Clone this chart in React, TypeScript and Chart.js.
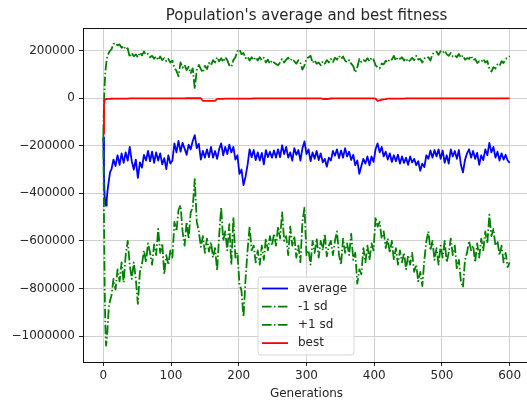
import React, { useEffect, useRef } from 'react';
import { Chart, registerables } from 'chart.js';

Chart.register(...registerables);

const TITLE = "Population's average and best fitness";
const X_LABEL = 'Generations';
const SERIES_LABELS = ['average', '-1 sd', '+1 sd', 'best'];
const X_TICKS = [0, 100, 200, 300, 400, 500, 600];
const Y_TICKS = [-1000000, -800000, -600000, -400000, -200000, 0, 200000];

const GENERATIONS = [
  0, 1, 2, 3, 4, 5, 6, 8, 10,
  12, 15, 18, 21, 24, 27, 30, 33, 36, 39,
  42, 45, 48, 51, 54, 57, 60, 63, 66, 69,
  72, 75, 78, 81, 84, 87, 90, 93, 96, 99,
  102, 105, 108, 111, 114, 117, 120, 123, 126, 129,
  132, 135, 138, 141, 144, 147, 150, 153, 156, 159,
  162, 165, 168, 171, 174, 177, 180, 183, 186, 189,
  192, 195, 198, 201, 204, 207, 210, 213, 216, 219,
  222, 225, 228, 231, 234, 237, 240, 243, 246, 249,
  252, 255, 258, 261, 264, 267, 270, 273, 276, 279,
  282, 285, 288, 291, 294, 297, 300, 303, 306, 309,
  312, 315, 318, 321, 324, 327, 330, 333, 336, 339,
  342, 345, 348, 351, 354, 357, 360, 363, 366, 369,
  372, 375, 378, 381, 384, 387, 390, 393, 396, 399,
  402, 405, 408, 411, 414, 417, 420, 423, 426, 429,
  432, 435, 438, 441, 444, 447, 450, 453, 456, 459,
  462, 465, 468, 471, 474, 477, 480, 483, 486, 489,
  492, 495, 498, 501, 504, 507, 510, 513, 516, 519,
  522, 525, 528, 531, 534, 537, 540, 543, 546, 549,
  552, 555, 558, 561, 564, 567, 570, 573, 576, 579,
  582, 585, 588, 591, 594, 597, 600,
];

const AVERAGE = [
  -165000, -330000, -410000, -445000, -452000, -430000, -395000, -350000, -310000,
  -300000, -258000, -285000, -240000, -280000, -232000, -272000, -228000, -262000, -205000,
  -265000, -300000, -258000, -335000, -270000, -292000, -238000, -262000, -222000, -265000,
  -225000, -272000, -228000, -262000, -232000, -278000, -252000, -298000, -240000, -275000,
  -262000, -190000, -228000, -180000, -225000, -188000, -212000, -238000, -195000, -215000,
  -180000, -155000, -210000, -192000, -258000, -222000, -250000, -215000, -248000, -205000,
  -250000, -222000, -255000, -215000, -190000, -240000, -205000, -235000, -195000, -228000,
  -205000, -258000, -240000, -318000, -300000, -365000, -330000, -280000, -215000, -248000,
  -218000, -260000, -228000, -262000, -230000, -278000, -218000, -248000, -225000, -250000,
  -220000, -250000, -215000, -248000, -198000, -235000, -205000, -250000, -228000, -262000,
  -210000, -238000, -218000, -262000, -210000, -182000, -235000, -215000, -265000, -228000,
  -255000, -222000, -260000, -232000, -270000, -255000, -288000, -250000, -262000, -222000,
  -242000, -215000, -252000, -220000, -250000, -210000, -245000, -225000, -260000, -238000,
  -282000, -262000, -318000, -285000, -255000, -275000, -245000, -282000, -245000, -268000,
  -215000, -190000, -228000, -205000, -245000, -225000, -258000, -232000, -268000, -240000,
  -265000, -238000, -275000, -245000, -272000, -250000, -280000, -245000, -270000, -255000,
  -282000, -265000, -305000, -275000, -290000, -240000, -255000, -220000, -250000, -218000,
  -245000, -215000, -255000, -220000, -272000, -240000, -275000, -215000, -245000, -222000,
  -255000, -218000, -280000, -312000, -260000, -232000, -215000, -250000, -222000, -255000,
  -230000, -280000, -240000, -260000, -215000, -240000, -188000, -228000, -205000, -250000,
  -225000, -262000, -232000, -258000, -238000, -262000, -272000,
];

const MINUS_SD = [
  -150000, -500000, -800000, -960000, -1040000, -1020000, -980000, -880000, -850000,
  -830000, -760000, -805000, -720000, -770000, -690000, -775000, -660000, -600000, -700000,
  -760000, -690000, -760000, -865000, -730000, -700000, -640000, -690000, -610000, -650000,
  -700000, -615000, -660000, -550000, -650000, -610000, -740000, -660000, -700000, -640000,
  -670000, -520000, -560000, -470000, -450000, -560000, -620000, -520000, -590000, -480000,
  -460000, -340000, -520000, -560000, -625000, -580000, -650000, -590000, -645000, -605000,
  -670000, -630000, -725000, -580000, -460000, -600000, -560000, -640000, -530000, -700000,
  -500000, -670000, -650000, -780000, -810000, -920000, -760000, -640000, -540000, -640000,
  -620000, -690000, -640000, -700000, -620000, -680000, -590000, -640000, -580000, -620000,
  -570000, -620000, -540000, -590000, -480000, -600000, -580000, -660000, -540000, -620000,
  -580000, -670000, -620000, -690000, -520000, -460000, -660000, -640000, -700000, -600000,
  -650000, -590000, -670000, -600000, -640000, -570000, -665000, -620000, -600000, -660000,
  -600000, -560000, -660000, -700000, -590000, -650000, -610000, -660000, -570000, -680000,
  -650000, -780000, -720000, -740000, -630000, -690000, -620000, -680000, -610000, -640000,
  -500000, -540000, -520000, -590000, -560000, -630000, -590000, -650000, -600000, -680000,
  -630000, -700000, -640000, -690000, -650000, -720000, -660000, -700000, -650000, -730000,
  -700000, -770000, -730000, -790000, -680000, -600000, -560000, -640000, -600000, -680000,
  -630000, -700000, -620000, -670000, -600000, -690000, -650000, -590000, -660000, -620000,
  -720000, -680000, -770000, -795000, -680000, -650000, -600000, -640000, -620000, -690000,
  -610000, -670000, -590000, -640000, -560000, -610000, -490000, -580000, -550000, -620000,
  -600000, -660000, -620000, -690000, -650000, -710000, -690000,
];

const PLUS_SD = [
  -150000, -20000, 60000, 110000, 140000, 160000, 175000, 190000, 200000,
  205000, 228000, 232000, 222000, 226000, 212000, 220000, 204000, 210000, 172000,
  190000, 176000, 184000, 172000, 192000, 180000, 196000, 182000, 186000, 172000,
  178000, 166000, 176000, 160000, 175000, 160000, 168000, 155000, 165000, 150000,
  158000, 128000, 115000, 92000, 150000, 128000, 140000, 118000, 132000, 105000,
  125000, 40000, 118000, 140000, 122000, 108000, 136000, 122000, 148000, 138000,
  160000, 150000, 172000, 155000, 168000, 152000, 172000, 160000, 138000, 132000,
  160000, 172000, 198000, 205000, 185000, 190000, 168000, 175000, 158000, 172000,
  160000, 172000, 158000, 172000, 160000, 170000, 150000, 162000, 145000, 158000,
  150000, 144000, 138000, 150000, 165000, 150000, 162000, 170000, 158000, 166000,
  155000, 145000, 160000, 148000, 120000, 138000, 165000, 172000, 178000, 148000,
  160000, 145000, 150000, 138000, 155000, 145000, 160000, 150000, 165000, 152000,
  170000, 162000, 178000, 165000, 175000, 158000, 150000, 160000, 145000, 135000,
  108000, 130000, 165000, 152000, 160000, 155000, 168000, 155000, 170000, 162000,
  138000, 130000, 125000, 145000, 142000, 158000, 150000, 165000, 162000, 178000,
  158000, 172000, 165000, 172000, 158000, 168000, 152000, 160000, 170000, 160000,
  178000, 162000, 165000, 150000, 168000, 165000, 172000, 158000, 185000, 192000,
  195000, 182000, 198000, 190000, 200000, 185000, 178000, 190000, 175000, 180000,
  172000, 186000, 170000, 180000, 162000, 168000, 165000, 178000, 160000, 165000,
  148000, 155000, 152000, 165000, 150000, 156000, 125000, 112000, 130000, 125000,
  142000, 135000, 155000, 148000, 165000, 170000, 176000,
];

const BEST = [
  -150000, -25000, -8000, -5000, -4000, -3500, -3000, -3000, -2500,
  -2500, -2200, -2000, -2000, -1800, -1800, -1500, -1500, -1500, -1200,
  -1200, -1200, -1000, -1000, -1000, -800, -800, -800, -800, -600,
  -600, -600, -600, -600, -600, -600, -600, -600, -600, -600,
  -600, -600, -500, -500, -500, -500, -500, -400, -400, -400,
  -400, -400, -400, -400, -400, -11000, -11000, -11000, -11000, -11000,
  -11000, -11000, -3000, -3000, -3000, -3000, -2000, -2000, -2000, -2000,
  -1500, -1500, -1500, -1500, -1500, -1500, -1500, -1500, -1500, -1500,
  -1200, -1200, -1200, -1200, -1200, -1200, -1200, -1200, -1200, -1200,
  -1000, -1000, -1000, -1000, -1000, -1000, -1000, -1000, -1000, -1000,
  -1000, -1000, -1000, -1000, -1000, -1000, -1000, -1000, -1000, -1000,
  -1000, -1000, -1000, -1000, -3000, -3500, -3500, -3000, -1000, -1000,
  -800, -800, -800, -800, -800, -800, -800, -800, -800, -800,
  -800, -800, -800, -800, -800, -800, -800, -800, -800, -800,
  -2000, -11000, -9000, -6000, -5000, -4000, -2000, -2000, -1500, -1500,
  -1500, -1500, -1500, -1500, -1500, -1000, -1000, -1000, -1000, -1000,
  -1000, -1000, -1000, -1000, -1000, -1000, -1000, -800, -800, -800,
  -800, -800, -800, -800, -800, -800, -800, -800, -800, -800,
  -600, -600, -600, -600, -600, -600, -600, -600, -600, -600,
  -600, -600, -600, -600, -600, -600, -600, -600, -600, -600,
  -500, -500, -500, -500, -500, -500, -500,
];

const FONT = '"DejaVu Sans", "Liberation Sans", sans-serif';
const TEXT_COLOR = '#262626';
const DASH_DOT = [9.6, 2.4, 1.5, 2.4];
const LINE_WIDTH = 1.8;

const fmt = (v: number) => (v < 0 ? '\u2212' + Math.abs(v) : String(v));

const framePlugin = {
  id: 'mplFrame',
  afterDraw(chart: any) {
    const { ctx, chartArea } = chart;
    ctx.save();
    ctx.strokeStyle = '#111';
    ctx.lineWidth = 1;
    ctx.beginPath();
    ctx.moveTo(chartArea.left, Math.round(chartArea.top) + 0.5);
    ctx.lineTo(chartArea.right, Math.round(chartArea.top) + 0.5);
    ctx.moveTo(Math.round(chartArea.right) + 0.5, chartArea.top);
    ctx.lineTo(Math.round(chartArea.right) + 0.5, chartArea.bottom);
    ctx.stroke();
    ctx.restore();
  },
};

const legendPlugin = {
  id: 'mplLegend',
  afterDraw(chart: any) {
    const { ctx, chartArea } = chart;
    const x0 = chartArea.left + 175;
    const y0 = chartArea.bottom - 85;
    const w = 96;
    const h = 78;
    ctx.save();
    ctx.beginPath();
    const r = 3;
    ctx.moveTo(x0 + r, y0);
    ctx.lineTo(x0 + w - r, y0);
    ctx.arcTo(x0 + w, y0, x0 + w, y0 + r, r);
    ctx.lineTo(x0 + w, y0 + h - r);
    ctx.arcTo(x0 + w, y0 + h, x0 + w - r, y0 + h, r);
    ctx.lineTo(x0 + r, y0 + h);
    ctx.arcTo(x0, y0 + h, x0, y0 + h - r, r);
    ctx.lineTo(x0, y0 + r);
    ctx.arcTo(x0, y0, x0 + r, y0, r);
    ctx.closePath();
    ctx.fillStyle = 'rgba(255,255,255,0.8)';
    ctx.fill();
    ctx.strokeStyle = '#d6d6d6';
    ctx.lineWidth = 1;
    ctx.stroke();
    chart.data.datasets.forEach((ds: any, i: number) => {
      const y = y0 + 11.5 + i * 18.2;
      ctx.beginPath();
      ctx.setLineDash(ds.borderDash || []);
      ctx.strokeStyle = ds.borderColor;
      ctx.lineWidth = LINE_WIDTH;
      ctx.moveTo(x0 + 4, y);
      ctx.lineTo(x0 + 30, y);
      ctx.stroke();
      ctx.setLineDash([]);
      ctx.fillStyle = TEXT_COLOR;
      ctx.font = '12px ' + FONT;
      ctx.textBaseline = 'middle';
      ctx.textAlign = 'left';
      ctx.fillText(ds.label, x0 + 40, y);
    });
    ctx.restore();
  },
};

const toPoints = (vals: number[]) => GENERATIONS.map((g, i) => ({ x: g, y: vals[i] }));

export default function App() {
  const ref = useRef<HTMLCanvasElement | null>(null);
  useEffect(() => {
    if (!ref.current) return;
    const mk = (label: string, vals: number[], color: string, dash: number[] | undefined, order: number) => ({
      label,
      data: toPoints(vals),
      borderColor: color,
      backgroundColor: color,
      borderWidth: LINE_WIDTH,
      borderDash: dash,
      borderJoinStyle: 'round' as const,
      pointRadius: 0,
      tension: 0,
      fill: false,
      order,
    });
    const chart = new Chart(ref.current, {
      type: 'line',
      data: {
        datasets: [
          mk(SERIES_LABELS[0], AVERAGE, '#0000ff', undefined, 3),
          mk(SERIES_LABELS[1], MINUS_SD, '#008000', DASH_DOT, 2),
          mk(SERIES_LABELS[2], PLUS_SD, '#008000', DASH_DOT, 1),
          mk(SERIES_LABELS[3], BEST, '#ff0000', undefined, 0),
        ],
      },
      options: {
        animation: false,
        responsive: false,
        maintainAspectRatio: false,
        layout: { padding: { left: 0, right: 10, top: 0, bottom: 0 } },
        plugins: {
          legend: { display: false },
          tooltip: { enabled: false },
          title: {
            display: true,
            text: TITLE,
            fullSize: false,
            color: TEXT_COLOR,
            font: { family: FONT, size: 15, weight: 'normal', lineHeight: 1.2 },
            padding: { top: 7, bottom: 3 },
          },
        },
        scales: {
          x: {
            type: 'linear',
            min: -30,
            max: 630,
            afterBuildTicks: (s: any) => {
              s.ticks = X_TICKS.map((v) => ({ value: v }));
            },
            afterFit: (s: any) => {
              s.height = 38;
            },
            ticks: {
              color: TEXT_COLOR,
              font: { family: FONT, size: 12 },
              padding: 3,
              maxRotation: 0,
              autoSkip: false,
              callback: (v: any) => fmt(Number(v)),
            },
            grid: {
              color: '#d0d0d0',
              lineWidth: 1,
              tickColor: '#222',
              tickLength: 4,
              drawTicks: true,
            },
            border: { display: true, color: '#111', width: 1 },
            title: {
              display: true,
              text: X_LABEL,
              color: TEXT_COLOR,
              font: { family: FONT, size: 12, lineHeight: 0.95 },
              padding: { top: 0, bottom: 0 },
            },
          },
          y: {
            type: 'linear',
            min: -1109000,
            max: 295000,
            afterBuildTicks: (s: any) => {
              s.ticks = Y_TICKS.map((v) => ({ value: v }));
            },
            afterFit: (s: any) => {
              s.width = 83;
            },
            ticks: {
              color: TEXT_COLOR,
              font: { family: FONT, size: 12 },
              padding: 4,
              autoSkip: false,
              callback: (v: any) => fmt(Number(v)),
            },
            grid: {
              color: '#d0d0d0',
              lineWidth: 1,
              tickColor: '#222',
              tickLength: 4,
              drawTicks: true,
            },
            border: { display: true, color: '#111', width: 1 },
          },
        },
      },
      plugins: [framePlugin, legendPlugin],
    } as any);
    return () => chart.destroy();
  }, []);

  return (
    <div style={{ position: 'absolute', left: 0, top: 0, width: 527, height: 400, overflow: 'hidden', background: '#fff' }}>
      <canvas ref={ref} width={540} height={400} style={{ display: 'block', width: 540, height: 400 }} />
    </div>
  );
}
